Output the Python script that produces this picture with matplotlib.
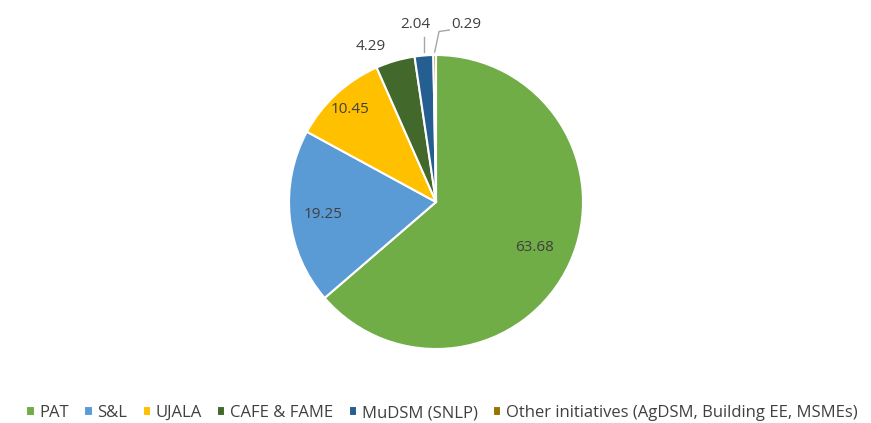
import numpy as np
import matplotlib.pyplot as plt

# ==================================================
# data
# ==================================================

labels = ['PAT', 'S&L', 'UJALA', 'CAFE & FAME', 'MuDSM (SNLP)',
          'Other initiatives (AgDSM, Building EE, MSMEs)']
values = [63.68, 19.25, 10.45, 4.29, 2.04, 0.29]
value_text = ['63.68', '19.25', '10.45', '4.29', '2.04', '0.29']

colors = ['#70AD47', '#5B9BD5', '#FFC000', '#43682B', '#255E91', '#997300']

plt.rcParams['font.family'] = ['Open Sans', 'DejaVu Sans']

W, H = 871, 423
fig = plt.figure(figsize=(W / 100, H / 100), dpi=100)

cx, cy, r = 436, 221, 147
ax = fig.add_axes([(cx - r) / W, (cy - r) / H, 2 * r / W, 2 * r / H])

wedges, _ = ax.pie(
    values,
    colors=colors,
    startangle=90,
    counterclock=False,
    radius=1.0,
    wedgeprops=dict(edgecolor='white', linewidth=1.5),
)
ax.set_xlim(-1, 1)
ax.set_ylim(-1, 1)
ax.set_aspect('equal')
ax.axis('off')

# ==================================================
# data labels
# ==================================================

label_color = '#404040'
inside_r = [0.74, 0.77, 0.86]
fs = 11

for i, w in enumerate(wedges):
    mid = np.deg2rad((w.theta1 + w.theta2) / 2)
    if i < 3:
        rr = inside_r[i]
        ax.text(rr * np.cos(mid), rr * np.sin(mid), value_text[i],
                ha='center', va='center', fontsize=fs, color=label_color)
    elif i == 3:
        ax.text(1.16 * np.cos(mid) - 0.12, 1.08 * np.sin(mid) + 0.02, value_text[i],
                ha='center', va='center', fontsize=fs, color=label_color, clip_on=False)
    elif i == 4:
        x0 = np.cos(mid)
        ax.plot([x0, x0], [1.02, 1.12], color='#A6A6A6', lw=1, clip_on=False)
        ax.text(x0 - 0.06, 1.21, value_text[i],
                ha='center', va='center', fontsize=fs, color=label_color, clip_on=False)
    else:
        x0 = np.cos(mid)
        ax.plot([x0, x0 + 0.03, x0 + 0.1], [1.02, 1.16, 1.17],
                color='#A6A6A6', lw=1, clip_on=False)
        ax.text(x0 + 0.11, 1.21, value_text[i],
                ha='left', va='center', fontsize=fs, color=label_color, clip_on=False)

# ==================================================
# legend
# ==================================================

fig.legend(
    wedges, labels,
    loc='center',
    bbox_to_anchor=(442 / W, 1 - 413 / H),
    ncol=6,
    frameon=False,
    fontsize=12,
    handlelength=0.5,
    handleheight=0.5,
    handletextpad=0.3,
    columnspacing=0.9,
    labelcolor=label_color,
)

fig.savefig('out.png', dpi=100)
